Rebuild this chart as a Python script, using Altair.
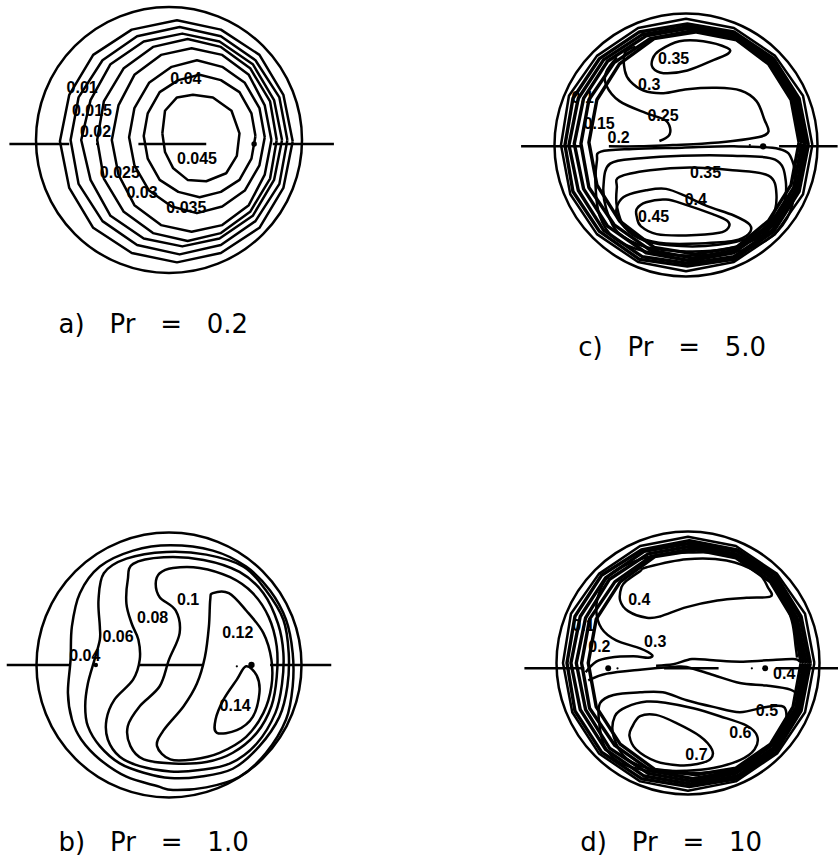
import altair as alt
import pandas as pd

alt.data_transformers.disable_max_rows()

# ---- layout: pipe-section centres (px) and px per 1/100 of the pipe radius ----
CENTRES = {"a": (169, 140), "b": (169, 665), "c": (686, 145), "d": (688, 663)}
S = 1.33
WALL_DIAMETER = {"a": 266, "b": 265, "c": 263, "d": 263}
TITLE_POS = {"a": (-83, -139), "b": (-83, -134), "c": (-81, -153), "d": (-81, -135)}

NB = "\u00a0"
TITLES = {
    "a": f"a){NB*3}Pr{NB*3}={NB*3}0.2",
    "b": f"b){NB*3}Pr{NB*3}={NB*3}1.0",
    "c": f"c){NB*3}Pr{NB*3}={NB*3}5.0",
    "d": f"d){NB*3}Pr{NB*3}={NB*3}10",
}

# ---- contour lines, coordinates in percent of the pipe radius (u right, v up) ----
# a) Pr = 0.2
A_010 = [(93, -1), (86, 34), (68, 64), (39, 83), (6, 90), (-28, 83), (-57, 64), (-75, 34), (-82, -1),
         (-75, -36), (-57, -66), (-28, -85), (6, -92), (39, -85), (68, -66), (86, -36)]
A_015 = [(89, 0), (83, 32), (65, 60), (39, 78), (8, 85), (-24, 78), (-50, 60), (-68, 32), (-74, 0),
         (-68, -33), (-50, -61), (-24, -79), (8, -86), (39, -79), (65, -61), (83, -33)]
A_020 = [(85, 0), (79, 30), (63, 57), (38, 74), (10, 80), (-19, 74), (-44, 57), (-59, 30), (-66, 0),
         (-59, -30), (-44, -57), (-19, -74), (10, -80), (38, -74), (63, -57), (79, -30)]
A_025 = [(81, 0), (76, 29), (61, 54), (39, 70), (14, 76), (-12, 70), (-34, 54), (-49, 29), (-54, 0),
         (-49, -29), (-34, -54), (-12, -70), (14, -76), (39, -70), (61, -54), (76, -29)]
A_030 = [(77, 0), (72, 26), (60, 49), (40, 64), (17, 69), (-6, 64), (-26, 49), (-38, 26), (-43, 0),
         (-38, -26), (-26, -49), (-6, -64), (17, -69), (40, -64), (60, -49), (72, -26)]
A_035 = [(72, 2), (68, 24), (57, 43), (40, 55), (21, 60), (2, 55), (-15, 43), (-26, 24), (-30, 2),
         (-26, -19), (-15, -38), (2, -50), (21, -55), (40, -50), (57, -38), (68, -19)]
A_040 = [(65, 3), (62, 20), (53, 36), (39, 45), (23, 49), (7, 45), (-7, 36), (-16, 20), (-19, 3),
         (-16, -14), (-7, -30), (7, -39), (23, -43), (39, -39), (53, -30), (62, -14)]
A_045 = [(-5, 5), (-3, 22), (6, 32), (18, 34), (33, 32), (47, 22), (53, 5), (51, -12), (43, -25),
         (28, -31), (14, -30), (3, -21), (-3, -9)]

# b) Pr = 1.0
B_004 = [(1, 90), (-27, 86), (-52, 74), (-67, 54), (-73, 29), (-74, 4), (-76, -21), (-73, -41), (-66, -56),
         (-52, -71), (-32, -84), (-9, -91), (3, -94), (28, -92), (53, -84), (73, -66), (88, -41), (93, -16),
         (93, 9), (88, 34), (76, 56), (58, 74), (33, 86)]
B_006 = [(-2, 85), (-32, 80), (-49, 69), (-53, 49), (-52, 29), (-52, 19), (-56, 4), (-61, -14), (-63, -31),
         (-61, -46), (-52, -61), (-37, -74), (-19, -81), (1, -85), (23, -84), (48, -78), (68, -61), (83, -39),
         (89, -16), (90, 9), (86, 34), (73, 56), (56, 74), (28, 83)]
B_008 = [(-4, 81), (-27, 76), (-31, 64), (-32, 46), (-28, 31), (-23, 19), (-22, 4), (-27, -11), (-41, -26),
         (-47, -41), (-46, -56), (-37, -69), (-22, -76), (1, -80), (23, -79), (46, -74), (66, -59), (80, -36),
         (85, -14), (86, 9), (82, 31), (71, 54), (53, 70), (26, 79)]
B_010 = [(3, 73), (-7, 69), (-10, 61), (-7, 51), (5, 41), (8, 24), (0, 4), (-7, -16), (-22, -31), (-31, -46),
         (-29, -61), (-19, -71), (3, -74), (28, -73), (48, -66), (66, -51), (77, -31), (81, -9), (81, 14),
         (75, 36), (63, 54), (46, 66), (23, 73)]
B_012 = [(33, 54), (45, 54), (58, 41), (71, 24), (77, 4), (77, -16), (71, -36), (58, -54), (38, -66),
         (18, -71), (1, -71), (-9, -61), (-4, -49), (11, -31), (21, -14), (27, 6), (30, 29), (31, 49)]
B_014 = [(58, -1), (66, -8), (68, -21), (63, -39), (51, -49), (36, -51), (35, -41), (41, -26), (51, -11)]

# c) Pr = 5.0
C_WALL = [(95, 0), (88, 37), (67, 67), (36, 88), (0, 95), (-36, 88), (-67, 67), (-88, 37), (-94, 0),
          (-87, -37), (-67, -67), (-36, -88), (0, -95), (36, -88), (67, -67), (88, -37)]
C_005 = [(92, 0), (85, 35), (66, 65), (36, 85), (1, 91), (-35, 85), (-65, 65), (-85, 35), (-91, 0),
         (-85, -35), (-65, -65), (-35, -86), (1, -91), (36, -86), (66, -65), (85, -35)]
C_010 = [(90, 0), (84, 35), (65, 64), (36, 83), (2, 89), (-33, 83), (-62, 64), (-81, 35), (-88, 0),
         (-81, -34), (-62, -64), (-33, -84), (2, -89), (36, -84), (65, -64), (84, -34)]
C_015 = [(89, 1), (83, 34), (64, 63), (36, 82), (3, 88), (-30, 82), (-59, 63), (-77, 35), (-84, 1),
         (-77, -33), (-59, -61), (-30, -81), (3, -87), (36, -81), (64, -61), (83, -33)]
C_020 = [(87, 1), (81, 34), (63, 62), (37, 80), (5, 86), (-27, 80), (-54, 62), (-73, 34), (-79, 1),
         (-73, -32), (-54, -60), (-27, -79), (5, -85), (37, -79), (63, -60), (81, -32)]
C_022 = [(85, 2), (79, 34), (62, 61), (38, 79), (7, 85), (-24, 80), (-50, 61), (-67, 34), (-73, 2),
         (-67, -30), (-50, -57), (-24, -77), (7, -82), (38, -77), (62, -57), (79, -30)]
C_035U = [(-25, 65), (-20, 71), (-5, 78), (13, 78), (31, 73), (32, 69), (21, 64), (1, 56), (-17, 54), (-25, 58)]
C_030U = [(-38, 74), (-46, 69), (-46, 56), (-42, 48), (-32, 41), (-17, 39), (1, 42), (23, 43), (41, 41),
          (53, 33), (59, 19), (62, 10), (55, 6), (35, 3), (12, 1), (-10, 0), (-35, -1), (-58, -1)]
C_025U = [(-52, 66), (-60, 55), (-60, 45), (-50, 33), (-30, 24), (-16, 19), (-12, 13), (-13, 7), (-20, 3)]
C_025L = [(-64, -5), (-40, -3), (-3, -2), (36, -1), (70, -3), (80, -12), (82, -33), (76, -55), (60, -72),
          (34, -81), (0, -83), (-31, -80), (-54, -70), (-65, -53), (-68, -31), (-67, -12)]
C_030L = [(-57, -14), (-34, -10), (-3, -8), (35, -8), (67, -11), (75, -27), (72, -50), (57, -68), (31, -78),
          (0, -80), (-29, -77), (-51, -66), (-60, -48), (-62, -30)]
C_035L = [(-50, -24), (-27, -19), (3, -17), (35, -19), (62, -23), (68, -37), (64, -56), (49, -69), (24, -75),
          (-4, -76), (-31, -72), (-46, -62), (-52, -46), (-52, -32)]
C_040 = [(-51, -44), (-45, -38), (-30, -34), (-15, -33), (1, -39), (16, -46), (36, -53), (48, -60), (47, -67),
         (36, -72), (10, -74), (-15, -74), (-34, -70), (-46, -62), (-52, -53)]
C_045 = [(-37, -48), (-30, -43), (-15, -41), (0, -45), (20, -52), (31, -57), (32, -62), (25, -66), (0, -68),
         (-22, -67), (-34, -61), (-37, -54)]

# d) Pr = 10
D_WALL = [(95, 0), (88, 37), (67, 67), (36, 88), (0, 95), (-36, 88), (-67, 67), (-88, 37), (-94, 0),
          (-87, -37), (-67, -68), (-36, -89), (0, -96), (36, -89), (67, -68), (88, -37)]
D_005 = [(92, 0), (85, 35), (66, 66), (37, 85), (1, 92), (-35, 85), (-65, 66), (-85, 35), (-91, 0),
         (-85, -36), (-65, -67), (-35, -87), (1, -93), (37, -87), (66, -67), (85, -36)]
D_010 = [(91, 0), (84, 35), (65, 64), (37, 84), (2, 90), (-33, 84), (-62, 64), (-81, 35), (-88, 0),
         (-81, -35), (-62, -65), (-33, -85), (2, -91), (37, -85), (65, -65), (84, -35)]
D_015 = [(89, 0), (82, 34), (64, 63), (36, 82), (3, 88), (-30, 82), (-59, 63), (-77, 34), (-84, 0),
         (-77, -35), (-59, -64), (-30, -83), (3, -89), (36, -83), (64, -64), (82, -35)]
D_020 = [(87, 0), (81, 33), (63, 61), (36, 80), (4, 86), (-28, 80), (-55, 61), (-74, 33), (-80, 0),
         (-74, -34), (-55, -62), (-28, -81), (4, -87), (36, -81), (63, -62), (81, -34)]
D_025 = [(85, 0), (79, 33), (62, 61), (36, 79), (6, 85), (-25, 80), (-51, 61), (-69, 33), (-75, 0),
         (-69, -33), (-51, -61), (-25, -80), (6, -84), (36, -79), (62, -61), (79, -33)]
D_030 = [(-77, -7), (-69, 1), (-59, 4), (-41, 5), (-30, 4), (-27, 6), (-36, 11), (-54, 17), (-65, 26),
         (-69, 40), (-66, 55), (-59, 66), (-44, 75), (-24, 81), (-1, 83), (29, 82), (54, 71), (69, 55),
         (78, 32), (81, 12), (82, 4)]
D_040U = [(-50, 57), (-46, 62), (-36, 69), (-31, 72), (-1, 78), (29, 77), (52, 68), (60, 57), (62, 50),
          (44, 49), (22, 47), (-1, 42), (-21, 35), (-31, 34), (-45, 39), (-51, 47)]
D_MID = [(-24, -2), (-11, -1), (3, 3), (19, 2), (39, 1), (59, 2), (79, 3), (84, 1)]
D_045 = [(-75, -13), (-61, -8), (-36, -5), (-11, -3), (-1, -3), (19, -9), (39, -15), (59, -17), (77, -20),
         (83, -25)]
D_050 = [(-67, -43), (-66, -30), (-56, -24), (-36, -22), (-19, -22), (-1, -28), (19, -33), (39, -37),
         (59, -33), (72, -33), (74, -43), (71, -55), (62, -68), (45, -78), (20, -82), (-6, -83), (-31, -81),
         (-51, -75), (-63, -62)]
D_060 = [(-56, -55), (-55, -40), (-46, -33), (-31, -29), (-16, -30), (4, -34), (24, -40), (44, -47),
         (52, -55), (50, -65), (39, -73), (19, -79), (-1, -81), (-26, -80), (-46, -72)]
D_070 = [(-42, -48), (-36, -40), (-24, -39), (-9, -45), (9, -55), (18, -65), (17, -72), (7, -76), (-6, -77),
         (-24, -74), (-39, -65), (-44, -55)]

# (panel, points, style) -- "poly": closed polygon, "band": closed polygon in the packed wall layer,
# "smooth": closed curve, "open": open curve
CONTOURS = [
    ("a", A_010, "poly"), ("a", A_015, "poly"), ("a", A_020, "poly"), ("a", A_025, "poly"),
    ("a", A_030, "poly"), ("a", A_035, "poly"), ("a", A_040, "poly"), ("a", A_045, "poly"),
    ("b", B_004, "smooth"), ("b", B_006, "smooth"), ("b", B_008, "smooth"), ("b", B_010, "smooth"),
    ("b", B_012, "smooth"), ("b", B_014, "smooth"),
    ("c", C_WALL, "poly"), ("c", C_005, "band"), ("c", C_010, "band"), ("c", C_015, "band"),
    ("c", C_020, "band"), ("c", C_022, "band"), ("c", C_035U, "smooth"), ("c", C_030U, "open"),
    ("c", C_025U, "open"), ("c", C_025L, "smooth"), ("c", C_030L, "smooth"),
    ("c", C_035L, "smooth"), ("c", C_040, "smooth"), ("c", C_045, "smooth"),
    ("d", D_WALL, "poly"), ("d", D_005, "band"), ("d", D_010, "band"), ("d", D_015, "band"),
    ("d", D_020, "band"), ("d", D_025, "band"), ("d", D_030, "open"), ("d", D_040U, "smooth"),
    ("d", D_MID, "open"), ("d", D_045, "open"), ("d", D_050, "smooth"), ("d", D_060, "smooth"),
    ("d", D_070, "smooth"),
]

# contour level labels: (panel, text, u, v) with u at the left end of the text
LEVEL_LABELS = [
    ("a", "0.01", -77, 39), ("a", "0.015", -73, 22), ("a", "0.02", -67, 6), ("a", "0.025", -52, -25),
    ("a", "0.03", -32, -40), ("a", "0.035", -2, -51), ("a", "0.04", 1, 46), ("a", "0.045", 6, -14),
    ("b", "0.04", -75, 7), ("b", "0.06", -50, 21), ("b", "0.08", -24, 35), ("b", "0.1", 6, 49),
    ("b", "0.12", 40, 24), ("b", "0.14", 38, -31),
    ("c", "0.35", -21, 65), ("c", "0.3", -36, 45), ("c", "0.25", -29, 22), ("c", "0.1", -86, 35),
    ("c", "0.15", -77, 16), ("c", "0.2", -59, 5), ("c", "0.35", 3, -21), ("c", "0.4", -1, -41),
    ("c", "0.45", -36, -54),
    ("d", "0.4", -45, 47), ("d", "0.1", -87, 28), ("d", "0.2", -75, 12), ("d", "0.3", -33, 16),
    ("d", "0.4", 64, -8), ("d", "0.5", 51, -36), ("d", "0.6", 31, -53), ("d", "0.7", -2, -69),
]

# horizontal diameter segments: (panel, u start, u end, v)
DIAMETER = [
    ("a", -120, -75, -3), ("a", -23, 28, -3), ("a", 78, 124, -3),
    ("b", -122, -75, 0), ("b", -23, 26, 0), ("b", 76, 122, 0),
    ("c", -124, -79, -1), ("c", 70, 114, -1),
    ("d", -123, -78, -4), ("d", -18, 23, -4), ("d", 66, 113, -4),
]

# marker dots: (panel, u, v, size)
DOTS = [
    ("a", 64, -3, 30), ("a", -54, -3, 6),
    ("b", -55, 0, 20), ("b", 62, 0, 40), ("b", 51, -1, 5),
    ("c", 58, -1, 40), ("c", 48, 0, 5),
    ("d", -60, -4, 35), ("d", -53, -4, 5), ("d", 58, -4, 35), ("d", 48, -4, 5),
]


def gx(panel, u):
    return CENTRES[panel][0] + u * S


def gy(panel, v):
    return CENTRES[panel][1] - v * S


def line_frame(style):
    rows = []
    for k, (panel, pts, st) in enumerate(CONTOURS):
        if st != style:
            continue
        seq = list(pts) + ([pts[0]] if style in ("poly", "band") else [])
        for i, (u, v) in enumerate(seq):
            rows.append({"cid": k, "i": i, "x": gx(panel, u), "y": gy(panel, v)})
    return pd.DataFrame(rows)


X = alt.Scale(domain=[0, 838], nice=False, zero=False)
Y = alt.Scale(domain=[0, 860], nice=False, zero=False, reverse=True)
LW = 2.5


def lines(df, interp, width=LW):
    return alt.Chart(df).mark_line(
        color="black", strokeWidth=width, interpolate=interp, strokeJoin="round"
    ).encode(
        x=alt.X("x:Q", scale=X, axis=None),
        y=alt.Y("y:Q", scale=Y, axis=None),
        detail="cid:N",
        order="i:Q",
    )


walls = pd.DataFrame([{"x": gx(p, 0), "y": gy(p, 0), "s": WALL_DIAMETER[p] ** 2} for p in CENTRES])
wall_layer = alt.Chart(walls).mark_point(
    shape="circle", filled=False, color="black", strokeWidth=LW, opacity=1
).encode(
    x=alt.X("x:Q", scale=X, axis=None), y=alt.Y("y:Q", scale=Y, axis=None),
    size=alt.Size("s:Q", scale=None, legend=None),
)

diam = pd.DataFrame([{"x": gx(p, a), "x2": gx(p, b), "y": gy(p, v)} for p, a, b, v in DIAMETER])
diam_layer = alt.Chart(diam).mark_rule(color="black", strokeWidth=LW).encode(
    x=alt.X("x:Q", scale=X, axis=None), x2="x2:Q", y=alt.Y("y:Q", scale=Y, axis=None)
)

dots = pd.DataFrame([{"x": gx(p, u), "y": gy(p, v), "s": s} for p, u, v, s in DOTS])
dot_layer = alt.Chart(dots).mark_point(shape="circle", filled=True, color="black", opacity=1).encode(
    x=alt.X("x:Q", scale=X, axis=None), y=alt.Y("y:Q", scale=Y, axis=None),
    size=alt.Size("s:Q", scale=None, legend=None),
)

labels = pd.DataFrame([{"x": gx(p, u), "y": gy(p, v), "t": t} for p, t, u, v in LEVEL_LABELS])
label_layer = alt.Chart(labels).mark_text(
    align="left", baseline="middle", font="Liberation Sans", fontWeight="bold", fontSize=16, color="black"
).encode(x=alt.X("x:Q", scale=X, axis=None), y=alt.Y("y:Q", scale=Y, axis=None), text="t:N")

titles = pd.DataFrame([{"x": gx(p, TITLE_POS[p][0]), "y": gy(p, TITLE_POS[p][1]), "t": TITLES[p]}
                       for p in CENTRES])
title_layer = alt.Chart(titles).mark_text(
    align="left", baseline="middle", font="DejaVu Sans", fontSize=26, color="black"
).encode(x=alt.X("x:Q", scale=X, axis=None), y=alt.Y("y:Q", scale=Y, axis=None), text="t:N")

chart = alt.layer(
    wall_layer,
    lines(line_frame("poly"), "linear"),
    lines(line_frame("band"), "linear", 3.4),
    lines(line_frame("smooth"), "cardinal-closed"),
    lines(line_frame("open"), "cardinal"),
    diam_layer,
    dot_layer,
    label_layer,
    title_layer,
).properties(
    width=838, height=860, padding=0, autosize=alt.AutoSizeParams(type="none"), background="white"
).configure_view(stroke=None)

chart.save("out.html", embed_options={"renderer": "svg", "actions": False})
